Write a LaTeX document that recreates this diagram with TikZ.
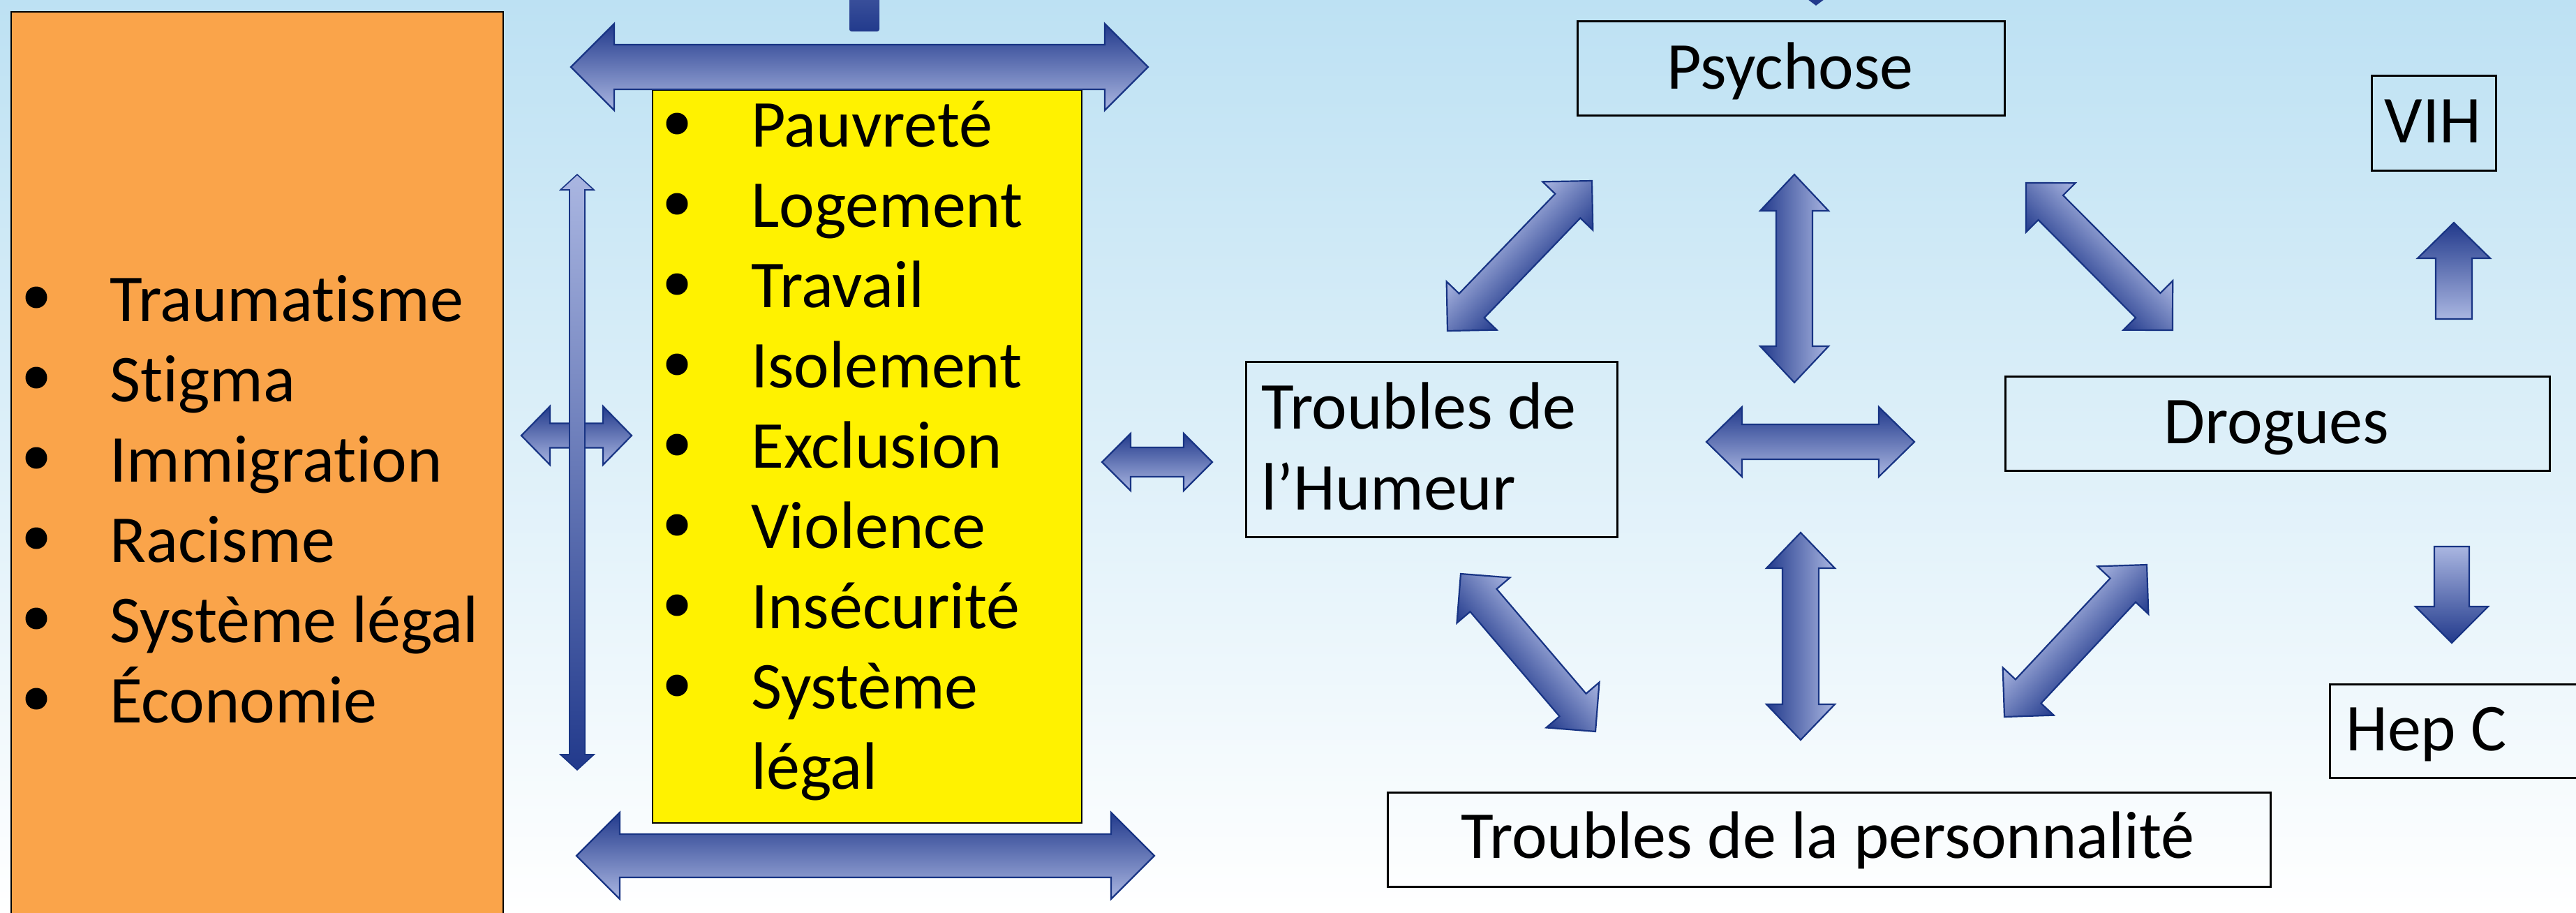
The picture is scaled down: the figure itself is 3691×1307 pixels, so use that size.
\documentclass[tikz,border=0pt]{standalone}
\usepackage{fontspec}
\setmainfont{Carlito}[Ligatures=NoCommon]

\definecolor{bgtop}{RGB}{189,225,243}
\definecolor{bgmid}{RGB}{211,235,247}
\definecolor{orangebox}{RGB}{250,164,74}
\definecolor{adark}{RGB}{34,58,140}
\definecolor{alight}{RGB}{170,182,225}
\definecolor{aedge}{RGB}{24,52,132}

\tikzset{
  labelbox/.style={draw=black, line width=2.5pt, inner sep=0pt, anchor=north west},
  lbl/.style={font=\fontsize{96}{115}\selectfont, inner sep=0pt, text=black},
  bul/.style={circle, fill=black, inner sep=0pt, minimum size=31pt},
  blockarrow/.style={draw=aedge, line width=2.2pt, line join=miter},
}

% double-headed block arrow from tip (#1,#2) to tip (#3,#4);
% #5 shaft half width, #6 head half width, #7 head length,
% #8 colour on the left-hand side of the direction, #9 on the right-hand side
\newcommand{\blockdarrow}[9]{%
  \pgfmathsetmacro{\bdlen}{veclen((#3)-(#1),(#4)-(#2))}%
  \pgfmathsetmacro{\bdang}{atan2((#2)-(#4),(#3)-(#1))}%
  \pgfmathsetmacro{\bdneck}{\bdlen-(#7)}%
  \begin{scope}[transform canvas={shift={(#1,#2)},rotate=\bdang}]
    \path[blockarrow, top color=#8, bottom color=#9]
      (0,0) -- (#7,-#6) -- (#7,-#5) -- (\bdneck,-#5) -- (\bdneck,-#6)
      -- (\bdlen,0) -- (\bdneck,#6) -- (\bdneck,#5) -- (#7,#5) -- (#7,#6) -- cycle;
  \end{scope}}

\begin{document}
\begin{tikzpicture}[x=1pt,y=-1pt]
\useasboundingbox (0,0) rectangle (3691,1307);
\clip (0,0) rectangle (3691,1307);

% slide background
\shade[top color=bgtop, middle color=bgmid, bottom color=white] (0,0) rectangle (3691,1307);

% left column: structural factors
\node[labelbox, fill=orangebox, line width=2pt, minimum width=705pt, minimum height=1320pt] (orange) at (15,16) {};
\foreach \t [count=\i from 0] in {Traumatisme, Stigma, Immigration, Racisme, {Système légal}, Économie} {
  \node[bul] (ob\i) at (52,426+115*\i) {};
  \node[lbl, anchor=base west] (ot\i) at (157,460+115*\i) {\t};
}

% middle column: living conditions
\node[labelbox, fill=yellow, line width=2pt, minimum width=615pt, minimum height=1050pt] (yellowbox) at (934,128) {};
\foreach \t [count=\i from 0] in {Pauvreté, Logement, Travail, Isolement, Exclusion, Violence, Insécurité, Système} {
  \node[bul] (yb\i) at (970,177+115*\i) {};
  \node[lbl, anchor=base west] (yt\i) at (1076,210+115*\i) {\t};
}
\node[lbl, anchor=base west] (yt8) at (1076,1130) {légal};

% clinical boxes
\node[labelbox, minimum width=612pt, minimum height=135pt] (psy) at (2259,29) {};
\node[lbl, anchor=base] (psyt) at (2565,127) {Psychose};
\node[labelbox, minimum width=178pt, minimum height=136pt] (vih) at (3397,107) {};
\node[lbl, anchor=base] (viht) at (3486,204) {VIH};
\node[labelbox, minimum width=532pt, minimum height=251pt] (hum) at (1784,517) {};
\node[lbl, anchor=base west] (humt1) at (1807,614) {Troubles de};
\node[lbl, anchor=base west] (humt2) at (1807,730) {l’Humeur};
\node[labelbox, minimum width=780pt, minimum height=135pt] (drog) at (2872,538) {};
\node[lbl, anchor=base] (drogt) at (3262,635) {Drogues};
\node[labelbox, minimum width=420pt, minimum height=134pt] (hepc) at (3337,979) {};
\node[lbl, anchor=base west] (hepct) at (3361,1075) {Hep C};
\node[labelbox, minimum width=1265pt, minimum height=135pt] (pers) at (1987,1134) {};
\node[lbl, anchor=base] (perst) at (2619,1229) {Troubles de la personnalité};

% pieces of arrows entering from above
\path[top color=adark!80!alight, bottom color=adark, rounded corners=3pt] (1217,-10) rectangle (1260,45);
\fill[adark] (2590,-1) -- (2614,-1) -- (2602,8) -- cycle;

% wide arrows above and below the middle column
\blockdarrow{818}{96}{1645}{96}{32}{62}{62}{adark}{alight}
\blockdarrow{826}{1226}{1654}{1226}{31}{62}{62}{adark}{alight}

% small arrows beside the middle column
\blockdarrow{747}{624}{905}{624}{17.5}{42}{41}{adark}{alight}
\path[blockarrow, line width=1.6pt, top color=alight, bottom color=adark]
  (827,250) -- (851,272) -- (838,272) -- (838,1081) -- (851,1081) -- (827,1103)
  -- (803,1081) -- (816,1081) -- (816,272) -- (803,272) -- cycle;
\blockdarrow{1579}{662}{1737}{662}{21}{41}{41}{adark}{alight}

% links between the clinical boxes
\blockdarrow{2074}{474}{2281}{259}{25}{50}{50}{alight}{adark}
\blockdarrow{2571}{250}{2571}{548}{26}{49}{52}{alight}{adark}
\blockdarrow{2903}{262}{3113}{473}{25}{50}{50}{alight}{adark}
\blockdarrow{2445}{633}{2743}{633}{25}{50}{51}{adark}{alight}
\blockdarrow{2093}{822}{2286}{1048}{25}{50}{50}{alight}{adark}
\blockdarrow{2580}{763}{2580}{1060}{26}{49}{51}{alight}{adark}
\blockdarrow{2872}{1027}{3076}{809}{25}{50}{50}{alight}{adark}

% single arrows towards VIH and Hep C
\path[blockarrow, top color=adark, bottom color=alight]
  (3516,319) -- (3568,370) -- (3542,370) -- (3542,457) -- (3490,457) -- (3490,370) -- (3464,370) -- cycle;
\path[blockarrow, top color=alight, bottom color=adark]
  (3513,921) -- (3565,869) -- (3538,869) -- (3538,783) -- (3488,783) -- (3488,869) -- (3461,869) -- cycle;
\end{tikzpicture}
\end{document}
